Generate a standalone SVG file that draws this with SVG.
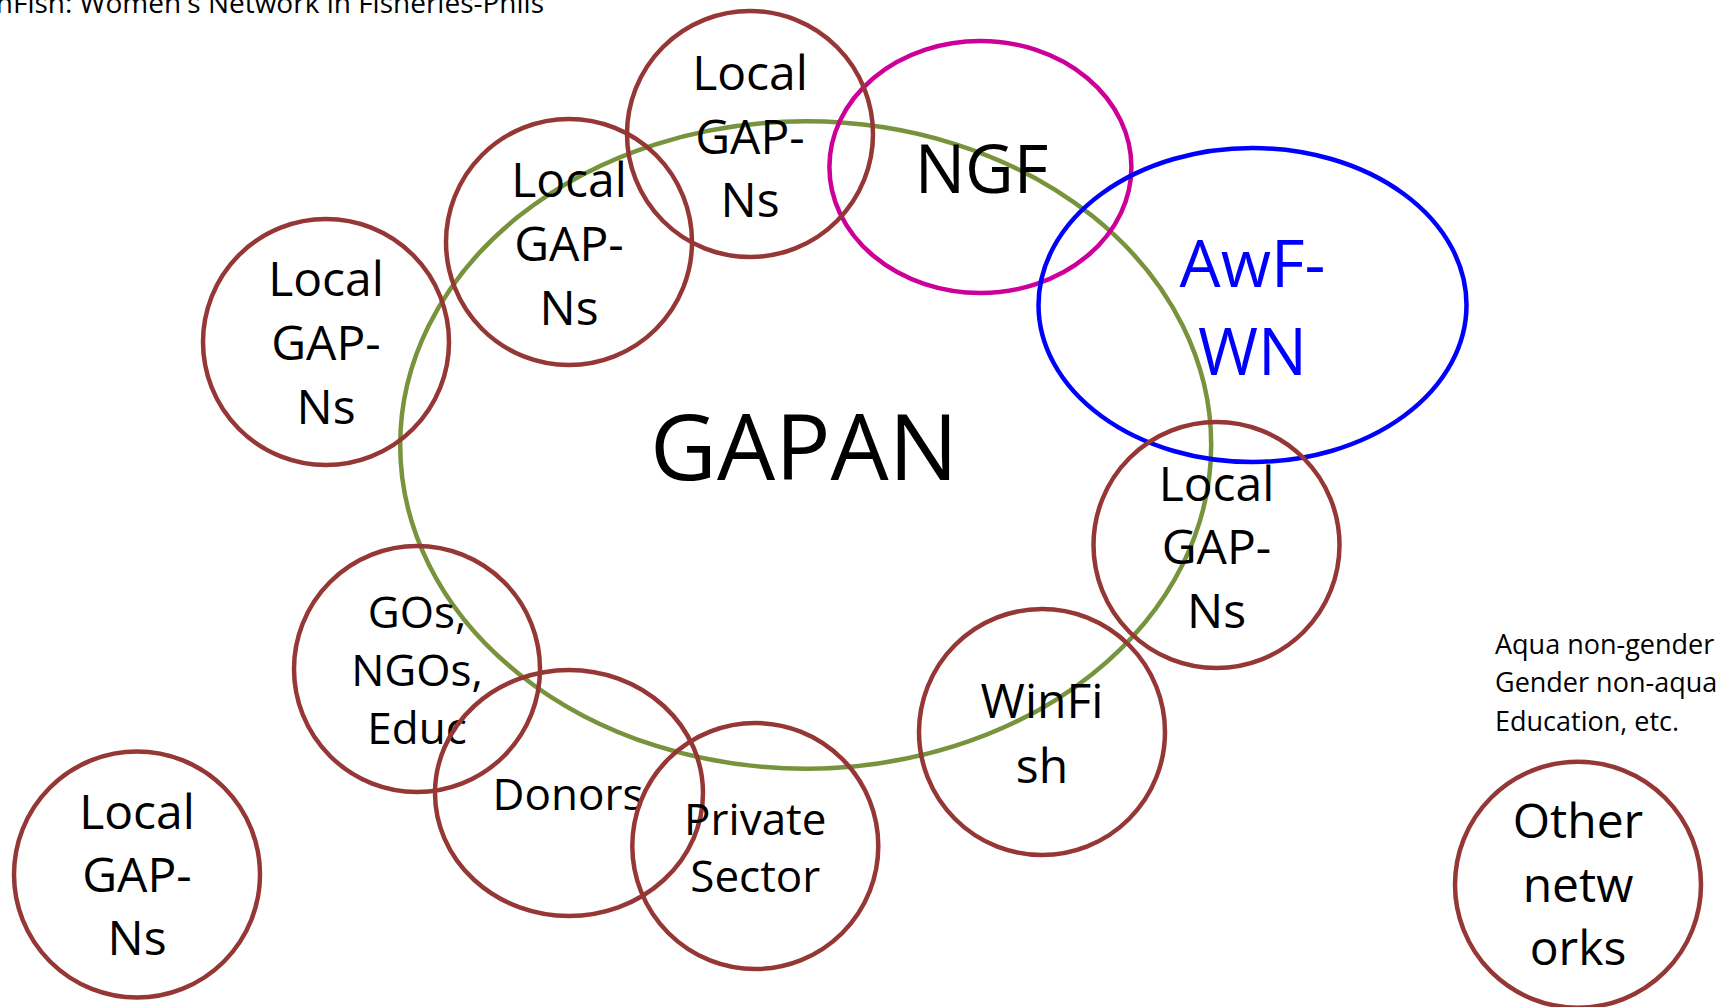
<svg xmlns="http://www.w3.org/2000/svg" width="1734" height="1007" viewBox="0 0 1734 1007">
<style>
  text { font-family: "Open Sans", "Noto Sans", "Liberation Sans", sans-serif; fill: #000; }
  .ring { fill: none; stroke-width: 4.5; }
  .brown { stroke: #953735; }
  .green { stroke: #77933C; }
  .mag { stroke: #CC0099; }
  .blue { stroke: #0000FF; }
  .lbl { font-size: 48px; text-anchor: middle; }
  .sm { font-size: 44px; text-anchor: middle; }
  .note { font-size: 27px; }
</style>
<rect width="1734" height="1007" fill="#fff"/>
<text x="544" y="13" font-size="28" text-anchor="end">WinFish: Women's Network in Fisheries-Phils</text>

<g id="connectors"></g>

<g id="gapan">
  <ellipse class="ring green" cx="805.7" cy="445" rx="405.5" ry="323.7"/>
  <text x="804" y="480" font-size="92" text-anchor="middle">GAPAN</text>
</g>
<g id="ngf">
  <ellipse class="ring mag" cx="980.4" cy="167" rx="151" ry="126"/>
  <text x="981.5" y="193" font-size="67" text-anchor="middle">NGF</text>
</g>
<g id="awfwn">
  <ellipse class="ring blue" cx="1252.5" cy="305" rx="214" ry="157"/>
  <text x="1252.5" y="287" font-size="65" text-anchor="middle" style="fill:#0000FF">AwF-</text>
  <text x="1252.5" y="375" font-size="65" text-anchor="middle" style="fill:#0000FF">WN</text>
</g>
<g id="local-top">
  <circle class="ring brown" cx="750" cy="134" r="123"/>
  <text class="lbl" x="750" y="90">Local</text>
  <text class="lbl" x="750" y="154">GAP-</text>
  <text class="lbl" x="750" y="217">Ns</text>
</g>
<g id="local-2">
  <circle class="ring brown" cx="569" cy="242" r="123"/>
  <text class="lbl" x="569" y="197">Local</text>
  <text class="lbl" x="569" y="261">GAP-</text>
  <text class="lbl" x="569" y="325">Ns</text>
</g>
<g id="local-3">
  <circle class="ring brown" cx="326" cy="342" r="123"/>
  <text class="lbl" x="326" y="296">Local</text>
  <text class="lbl" x="326" y="360">GAP-</text>
  <text class="lbl" x="326" y="424">Ns</text>
</g>
<g id="local-right">
  <circle class="ring brown" cx="1216.5" cy="545" r="123"/>
  <text class="lbl" x="1216.5" y="501">Local</text>
  <text class="lbl" x="1216.5" y="564">GAP-</text>
  <text class="lbl" x="1216.5" y="628">Ns</text>
</g>
<g id="local-bottom">
  <circle class="ring brown" cx="137" cy="874.5" r="123"/>
  <text class="lbl" x="137" y="829">Local</text>
  <text class="lbl" x="137" y="892">GAP-</text>
  <text class="lbl" x="137" y="955">Ns</text>
</g>
<g id="gos">
  <circle class="ring brown" cx="417" cy="669" r="123"/>
  <text class="sm" x="417" y="628">GOs,</text>
  <text class="sm" x="417" y="686">NGOs,</text>
  <text class="sm" x="417" y="744">Educ</text>
</g>
<g id="donors">
  <ellipse class="ring brown" cx="569" cy="793" rx="134" ry="123"/>
  <text class="sm" x="568" y="810">Donors</text>
</g>
<g id="private">
  <circle class="ring brown" cx="755.3" cy="846" r="123"/>
  <text class="sm" x="755.3" y="835">Private</text>
  <text class="sm" x="755.3" y="892">Sector</text>
</g>
<g id="winfish">
  <circle class="ring brown" cx="1042" cy="732" r="123"/>
  <text class="lbl" x="1042" y="718" font-size="47">WinFi</text>
  <text class="lbl" x="1042" y="783" font-size="47">sh</text>
</g>
<g id="other">
  <circle class="ring brown" cx="1578" cy="884.7" r="123"/>
  <text class="lbl" x="1578" y="838">Other</text>
  <text class="lbl" x="1578" y="902">netw</text>
  <text class="lbl" x="1578" y="965">orks</text>
</g>
<g id="notes">
  <text class="note" x="1495" y="654">Aqua non-gender</text>
  <text class="note" x="1495" y="692">Gender non-aqua</text>
  <text class="note" x="1495" y="731">Education, etc.</text>
</g>
</svg>
